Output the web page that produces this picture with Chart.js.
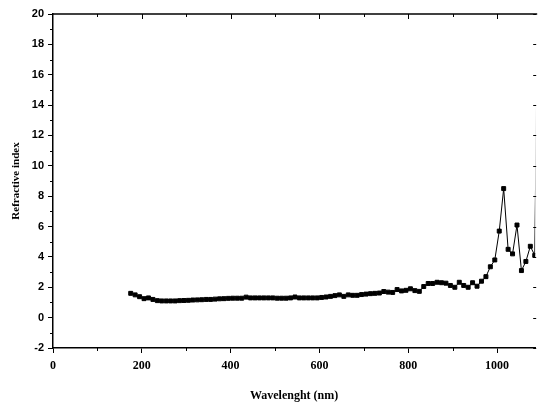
<!DOCTYPE html>
<html>
<head>
<meta charset="utf-8">
<script src="https://cdn.jsdelivr.net/npm/chart.js@4.4.1/dist/chart.umd.min.js"></script>
<style>
  html, body { margin: 0; padding: 0; background: #fff; }
  #wrap { width: 539px; height: 403px; }
</style>
</head>
<body>
<div id="wrap"><canvas id="chart"></canvas></div>
<script>
// wavelength (nm) and refractive index
const wavelengths = [175, 185, 195, 205, 215, 225, 235, 245, 255, 265, 275, 285, 295, 305, 315, 325, 335, 345, 355, 365,
  375, 385, 395, 405, 415, 425, 435, 445, 455, 465, 475, 485, 495, 505, 515, 525, 535, 545, 555, 565,
  575, 585, 595, 605, 615, 625, 635, 645, 655, 665, 675, 685, 695, 705, 715, 725, 735, 745, 755, 765,
  775, 785, 795, 805, 815, 825, 835, 845, 855, 865, 875, 885, 895, 905, 915, 925, 935, 945, 955, 965,
  975, 985, 995, 1005, 1015, 1025, 1035, 1045, 1055, 1065, 1075, 1085, 1095];
const refIndex = [1.6, 1.5, 1.38, 1.25, 1.3, 1.2, 1.12, 1.1, 1.1, 1.1, 1.1, 1.12, 1.13, 1.14, 1.16, 1.17, 1.18, 1.2, 1.2, 1.22,
  1.24, 1.25, 1.27, 1.28, 1.28, 1.28, 1.35, 1.3, 1.3, 1.3, 1.3, 1.3, 1.3, 1.28, 1.28, 1.28, 1.3, 1.36, 1.3, 1.3,
  1.3, 1.3, 1.3, 1.33, 1.36, 1.4, 1.45, 1.5, 1.4, 1.5, 1.47, 1.47, 1.52, 1.55, 1.58, 1.6, 1.62, 1.72, 1.68, 1.66,
  1.85, 1.76, 1.8, 1.9, 1.78, 1.73, 2.05, 2.25, 2.25, 2.33, 2.3, 2.27, 2.12, 2.0, 2.33, 2.12, 2.0, 2.3, 2.07, 2.4,
  2.7, 3.35, 3.8, 5.7, 8.5, 4.5, 4.2, 6.1, 3.1, 3.7, 4.7, 4.1, 30];
const xTicks = [0, 200, 400, 600, 800, 1000];
const yTicks = [-2, 0, 2, 4, 6, 8, 10, 12, 14, 16, 18, 20];

const points = wavelengths.map((w, i) => ({ x: w, y: refIndex[i] }));

// minor ticks + top / right frame ticks
const frameTicks = {
  id: 'frameTicks',
  afterDraw(chart) {
    const { ctx, chartArea: a, scales: { x, y } } = chart;
    ctx.save();
    ctx.strokeStyle = '#000';
    ctx.lineWidth = 1.5;
    // top line
    ctx.beginPath();
    ctx.moveTo(a.left, a.top);
    ctx.lineTo(a.right + 2, a.top);
    ctx.stroke();
    ctx.lineWidth = 1;
    for (let v = 100; v <= 1000; v += 200) {
      const px = Math.round(x.getPixelForValue(v)) + 0.5;
      ctx.beginPath(); ctx.moveTo(px, a.bottom); ctx.lineTo(px, a.bottom + 3); ctx.stroke();
    }
    for (let v = 100; v <= 1000; v += 100) {
      const px = Math.round(x.getPixelForValue(v)) + 0.5;
      const len = v % 200 === 0 ? 5 : 3;
      ctx.beginPath(); ctx.moveTo(px, a.top); ctx.lineTo(px, a.top + len); ctx.stroke();
    }
    for (let v = -1; v <= 19; v += 2) {
      const py = Math.round(y.getPixelForValue(v)) + 0.5;
      ctx.beginPath(); ctx.moveTo(a.left, py); ctx.lineTo(a.left - 3, py); ctx.stroke();
    }
    yTicks.forEach(v => {
      const py = Math.round(y.getPixelForValue(v)) + 0.5;
      ctx.beginPath(); ctx.moveTo(a.right + 1, py); ctx.lineTo(a.right - 2, py); ctx.stroke();
    });
    ctx.restore();
  }
};

new Chart(document.getElementById('chart'), {
  type: 'line',
  data: {
    datasets: [{
      data: points,
      borderColor: '#000',
      backgroundColor: '#000',
      borderWidth: 1,
      pointStyle: 'rect',
      pointRadius: 2.8,
      pointHoverRadius: 2.8,
      tension: 0
    }]
  },
  options: {
    responsive: true,
    maintainAspectRatio: false,
    animation: false,
    layout: { padding: { top: 14, right: 0, left: 0, bottom: 0 } },
    plugins: { legend: { display: false }, tooltip: { enabled: false } },
    scales: {
      x: {
        type: 'linear',
        min: 0,
        max: 1086,
        afterBuildTicks: s => { s.ticks = xTicks.map(v => ({ value: v })); },
        afterFit: s => { s.height = 55; s.paddingLeft = 0; s.paddingRight = 0; },
        grid: { drawOnChartArea: false, drawTicks: true, tickLength: 5, color: '#000', lineWidth: 1 },
        border: { color: '#000', width: 1.5 },
        ticks: {
          color: '#000', padding: 6, maxRotation: 0,
          callback: v => String(v),
          font: { family: 'Liberation Serif', weight: 'bold', size: 12 }
        },
        title: {
          display: true,
          text: 'Wavelenght (nm)',
          color: '#000',
          padding: { top: 8, bottom: 0 },
          font: { family: 'Liberation Serif', weight: 'bold', size: 12 }
        }
      },
      y: {
        min: -2,
        max: 20,
        afterBuildTicks: s => { s.ticks = yTicks.map(v => ({ value: v })); },
        afterFit: s => { s.width = 53; s.paddingTop = 0; s.paddingBottom = 0; },
        grid: { drawOnChartArea: false, drawTicks: true, tickLength: 5, color: '#000', lineWidth: 1 },
        border: { color: '#000', width: 1.5 },
        ticks: { color: '#000', padding: 4, font: { family: 'Liberation Sans', weight: 'bold', size: 11 } },
        title: {
          display: true,
          text: 'Refractive index',
          color: '#000',
          padding: { top: 10, bottom: 0 },
          font: { family: 'Liberation Serif', weight: 'bold', size: 11 }
        }
      }
    }
  },
  plugins: [frameTicks]
});
</script>
</body>
</html>
